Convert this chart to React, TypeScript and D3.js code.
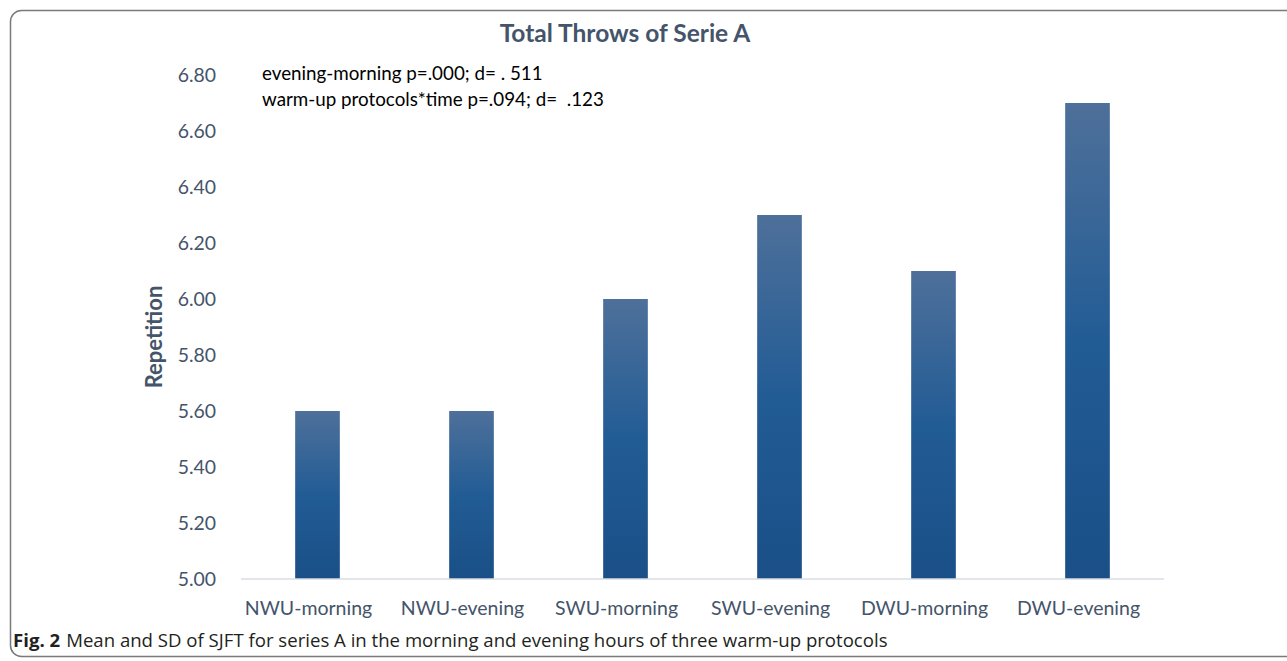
import React from "react";
import * as d3 from "d3";

const categories = ["NWU-morning", "NWU-evening", "SWU-morning", "SWU-evening", "DWU-morning", "DWU-evening"];
const values = [5.6, 5.6, 6.0, 6.3, 6.1, 6.7];
const yTicks = [5.0, 5.2, 5.4, 5.6, 5.8, 6.0, 6.2, 6.4, 6.6, 6.8];
const annotations = ["evening-morning p=.000; d= . 511", "warm-up protocols*time p=.094; d=  .123"];
const title = "Total Throws of Serie A";
const yTitle = "Repetition";
const captionBold = "Fig. 2";
const captionText = "Mean and SD of SJFT for series A in the morning and evening hours of three warm-up protocols";

const W = 1287;
const H = 661;
const slate = "#44546A";
const font = "Lato, 'Open Sans', sans-serif";

export default function App() {
  const x = d3.scaleBand<string>().domain(categories).range([240.5, 1164.5]).paddingInner(0.71).paddingOuter(0.355);
  const y = d3.scaleLinear().domain([5.0, 6.8]).range([579, 75]);
  return (
    <svg width={W} height={H} style={{ position: "absolute", left: 0, top: 0, background: "#fff" }}>
      <defs>
        <linearGradient id="barGrad" x1="0" y1="0" x2="0" y2="1">
          <stop offset="0%" stopColor="#4e709a" />
          <stop offset="50%" stopColor="#225c95" />
          <stop offset="100%" stopColor="#1a4f87" />
        </linearGradient>
      </defs>
      <rect x={10.5} y={10.5} width={1300} height={646} rx={11} fill="none" stroke="#7a7a7a" strokeWidth={1.5} />
      <text x={625} y={42} textAnchor="middle" fontFamily={font} fontWeight="bold" fontSize={24.5} fill={slate}>{title}</text>
      {yTicks.map((t) => (
        <text key={t} x={216} y={y(t)} dy="0.35em" textAnchor="end" fontFamily={font} fontSize={19.4} fill={slate}>{t.toFixed(2)}</text>
      ))}
      <text transform={`translate(162,${337}) rotate(-90)`} textAnchor="middle" fontFamily={font} fontWeight="bold" fontSize={22} fill={slate}>{yTitle}</text>
      {categories.map((c, i) => (
        <rect key={c} x={x(c)} y={y(values[i])} width={x.bandwidth()} height={y(5.0) - y(values[i])} fill="url(#barGrad)" />
      ))}
      <line x1={241} x2={1164} y1={579} y2={579} stroke="#d9dde3" strokeWidth={1.5} />
      {categories.map((c) => (
        <text key={c} x={(x(c) as number) + x.bandwidth() / 2 - 9} y={608} dy="0.35em" textAnchor="middle" fontFamily={font} fontSize={19.5} fill={slate}>{c}</text>
      ))}
      {annotations.map((a, i) => (
        <text key={a} x={262} y={73 + i * 26} dy="0.35em" fontFamily={font} fontSize={18.8} fill="#000" style={{ whiteSpace: "pre" }}>{a}</text>
      ))}
      <text x={13} y={640} dy="0.35em" fontFamily="'Open Sans', sans-serif" fontSize={18.6} fill="#231f20" style={{ whiteSpace: "pre" }}>
        <tspan fontWeight="bold">{captionBold}</tspan>
        <tspan dx={6}>{captionText}</tspan>
      </text>
    </svg>
  );
}
